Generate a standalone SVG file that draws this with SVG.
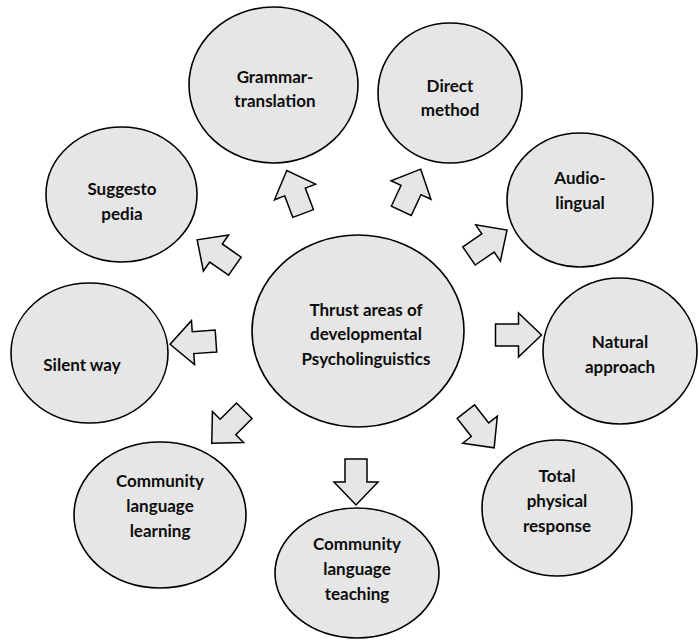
<svg xmlns="http://www.w3.org/2000/svg" width="699" height="641" viewBox="0 0 699 641">
  <style>
    .node { fill: #e6e6e6; stroke: #000; stroke-width: 1.6; }
    .arrow { fill: #e6e6e6; stroke: #000; stroke-width: 1.5; stroke-linejoin: miter; }
    .label { font-family: Lato, "Liberation Sans", sans-serif; font-weight: bold; font-size: 17px; fill: #0d0d0d; text-anchor: middle; }
  </style>
  <defs>
    <!-- block arrow pointing along +x, centred on the origin -->
    <polygon id="blockArrow" points="-23,-11 0,-11 0,-22 23,0 0,22 0,11 -23,11"/>
  </defs>
  <rect width="699" height="641" fill="#fff"/>

  <g id="connectors">
    <use href="#blockArrow" class="arrow" transform="translate(295,192) rotate(-110.8)"/>
    <use href="#blockArrow" class="arrow" transform="translate(411,190) rotate(-65)"/>
    <use href="#blockArrow" class="arrow" transform="translate(216,253) rotate(-145)"/>
    <use href="#blockArrow" class="arrow" transform="translate(488,243) rotate(-34.3)"/>
    <use href="#blockArrow" class="arrow" transform="translate(193,342.6) rotate(176)"/>
    <use href="#blockArrow" class="arrow" transform="translate(518.5,335) rotate(0)"/>
    <use href="#blockArrow" class="arrow" transform="translate(228,427) rotate(135)"/>
    <use href="#blockArrow" class="arrow" transform="translate(356,482) rotate(90)"/>
    <use href="#blockArrow" class="arrow" transform="translate(480,429.7) rotate(52)"/>
  </g>

  <g id="center">
    <ellipse class="node" cx="358" cy="331" rx="106" ry="96"/>
    <text class="label" x="366" y="316">Thrust areas of</text>
    <text class="label" x="366" y="340">developmental</text>
    <text class="label" x="366" y="365">Psycholinguistics</text>
  </g>

  <g id="grammar-translation">
    <ellipse class="node" cx="273.5" cy="85" rx="84.5" ry="78"/>
    <text class="label" x="275" y="83">Grammar-</text>
    <text class="label" x="275" y="107">translation</text>
  </g>

  <g id="direct-method">
    <ellipse class="node" cx="450" cy="93" rx="72" ry="70"/>
    <text class="label" x="450" y="92">Direct</text>
    <text class="label" x="450" y="116">method</text>
  </g>

  <g id="suggestopedia">
    <ellipse class="node" cx="121.5" cy="194.5" rx="75.5" ry="67.5"/>
    <text class="label" x="122" y="195">Suggesto</text>
    <text class="label" x="122" y="220">pedia</text>
  </g>

  <g id="audio-lingual">
    <ellipse class="node" cx="580" cy="200" rx="73" ry="67"/>
    <text class="label" x="580" y="184">Audio-</text>
    <text class="label" x="580" y="209">lingual</text>
  </g>

  <g id="silent-way">
    <ellipse class="node" cx="89.5" cy="353" rx="78.5" ry="70"/>
    <text class="label" x="82" y="371">Silent way</text>
  </g>

  <g id="natural-approach">
    <ellipse class="node" cx="620" cy="351" rx="77" ry="73"/>
    <text class="label" x="620" y="348">Natural</text>
    <text class="label" x="620" y="373">approach</text>
  </g>

  <g id="community-language-learning">
    <ellipse class="node" cx="160" cy="515" rx="86" ry="73"/>
    <text class="label" x="160" y="487">Community</text>
    <text class="label" x="160" y="512">language</text>
    <text class="label" x="160" y="537">learning</text>
  </g>

  <g id="community-language-teaching">
    <ellipse class="node" cx="357" cy="573" rx="82" ry="65"/>
    <text class="label" x="357" y="550">Community</text>
    <text class="label" x="357" y="575">language</text>
    <text class="label" x="357" y="600">teaching</text>
  </g>

  <g id="total-physical-response">
    <ellipse class="node" cx="557" cy="508" rx="75" ry="68"/>
    <text class="label" x="557" y="482">Total</text>
    <text class="label" x="557" y="507">physical</text>
    <text class="label" x="557" y="532">response</text>
  </g>
</svg>
